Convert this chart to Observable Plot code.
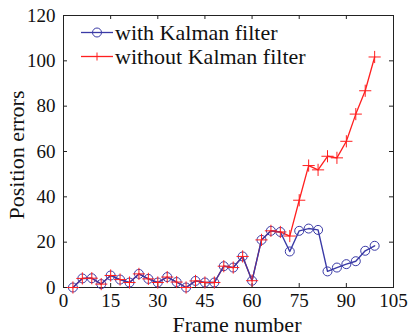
<!DOCTYPE html>
<html>
<head>
<meta charset="utf-8">
<script src="https://cdn.jsdelivr.net/npm/d3@7"></script>
<script src="https://cdn.jsdelivr.net/npm/@observablehq/plot@0.6"></script>
<style>
  html, body { margin: 0; padding: 0; background: #fff; }
  #wrap { position: relative; width: 412px; height: 336px; }
  #wrap svg { display: block; }
  #wrap svg text { font-family: "Liberation Serif", "Times New Roman", serif !important; }
  #overlay { position: absolute; left: 0; top: 0; pointer-events: none; }
</style>
</head>
<body>
<div id="wrap"></div>
<script>
// ---- data ----
const frames = [3, 6, 9, 12, 15, 18, 21, 24, 27, 30, 33, 36, 39, 42, 45, 48, 51, 54, 57, 60, 63, 66, 69, 72, 75, 78, 81, 84, 87, 90, 93, 96, 99];
const withKalman = [0, 4.0, 4.1, 1.5, 5.3, 3.5, 2.2, 6.0, 3.8, 2.2, 4.6, 2.4, 0, 2.9, 2.2, 2.2, 9.4, 8.8, 13.7, 3.0, 21, 25, 24.5, 15.9, 25, 26, 25.4, 7.1, 8.8, 10.3, 11.6, 16.2, 18.4];
const withoutKalman = [0, 4.0, 4.1, 1.5, 5.3, 3.5, 2.2, 6.0, 3.8, 2.2, 4.6, 2.4, 0, 2.9, 2.2, 2.2, 9.4, 8.8, 13.7, 3.0, 21, 25, 24.5, 22.7, 38.5, 53.8, 51.9, 57.9, 57.2, 64.5, 76.5, 86.8, 101.7];
const seriesNames = ["with Kalman filter", "without Kalman filter"];
const xTicks = [0, 15, 30, 45, 60, 75, 90, 105];
const yTicks = [0, 20, 40, 60, 80, 100, 120];
const xTitle = "Frame number";
const yTitle = "Position errors";

const blue = "#3a3aa6";
const red = "#ff1f1f";
const axisColor = "#222";
const fontFamily = "Liberation Serif";

const W = 412, H = 336;
const mL = 63, mR = 19, mT = 15, mB = 49;
const fw = W - mL - mR, fh = H - mT - mB;

const withData = frames.map((f, i) => ({frame: f, value: withKalman[i]}));
const withoutData = frames.map((f, i) => ({frame: f, value: withoutKalman[i]}));

const chart = Plot.plot({
  width: W,
  height: H,
  marginLeft: mL,
  marginRight: mR,
  marginTop: mT,
  marginBottom: mB,
  style: {fontFamily, fontSize: "19px", background: "#fff", color: "#111"},
  x: {domain: [0, 105]},
  y: {domain: [0, 120]},
  marks: [
    Plot.frame({stroke: axisColor, strokeWidth: 1}),
    Plot.tickX(xTicks, {x: d => d, insetTop: fh - 4, stroke: axisColor}),
    Plot.tickX(xTicks, {x: d => d, insetBottom: fh - 4, stroke: axisColor}),
    Plot.tickY(yTicks, {y: d => d, insetRight: fw - 4, stroke: axisColor}),
    Plot.tickY(yTicks, {y: d => d, insetLeft: fw - 4, stroke: axisColor}),
    Plot.axisX(xTicks, {tickSize: 0, tickPadding: 6, label: null, fontSize: 19, fontFamily}),
    Plot.axisY(yTicks, {tickSize: 0, tickPadding: 8, label: null, fontSize: 19, fontFamily}),
    Plot.line(withoutData, {x: "frame", y: "value", stroke: red, strokeWidth: 1.3}),
    Plot.line(withData, {x: "frame", y: "value", stroke: blue, strokeWidth: 1.4}),
    Plot.dot(withData, {x: "frame", y: "value", symbol: "circle", r: 4.5, stroke: blue, fill: "none", strokeWidth: 1}),
    Plot.dot(withoutData, {x: "frame", y: "value", symbol: "plus", r: 4, stroke: red, strokeWidth: 1})
  ]
});

const wrap = document.getElementById("wrap");
wrap.appendChild(chart);

// overlay: axis titles and legend
const ov = d3.select(wrap).append("svg")
  .attr("id", "overlay")
  .attr("width", W).attr("height", H);

ov.append("text")
  .attr("x", 237).attr("y", 332)
  .attr("text-anchor", "middle")
  .attr("font-family", fontFamily)
  .attr("font-size", 22)
  .attr("fill", "#111")
  .text(xTitle);

ov.append("text")
  .attr("transform", "translate(24,155) rotate(-90)")
  .attr("text-anchor", "middle")
  .attr("font-family", fontFamily)
  .attr("font-size", 22)
  .attr("fill", "#111")
  .text(yTitle);

// legend
const leg = [
  {name: seriesNames[0], color: blue, sym: "circle", y: 32.5},
  {name: seriesNames[1], color: red, sym: "plus", y: 56.5}
];
leg.forEach(l => {
  ov.append("line")
    .attr("x1", 81).attr("x2", 113).attr("y1", l.y).attr("y2", l.y)
    .attr("stroke", l.color).attr("stroke-width", 1.3);
  if (l.sym === "circle") {
    ov.append("circle").attr("cx", 97).attr("cy", l.y).attr("r", 4.5)
      .attr("fill", "none").attr("stroke", l.color);
  } else {
    ov.append("path").attr("d", `M93,${l.y}h8M97,${l.y - 4}v8`)
      .attr("stroke", l.color).attr("fill", "none");
  }
  ov.append("text")
    .attr("x", 115).attr("y", l.y + 7)
    .attr("font-family", fontFamily)
    .attr("font-size", 22)
    .attr("fill", "#111")
    .text(l.name);
});
</script>
</body>
</html>
